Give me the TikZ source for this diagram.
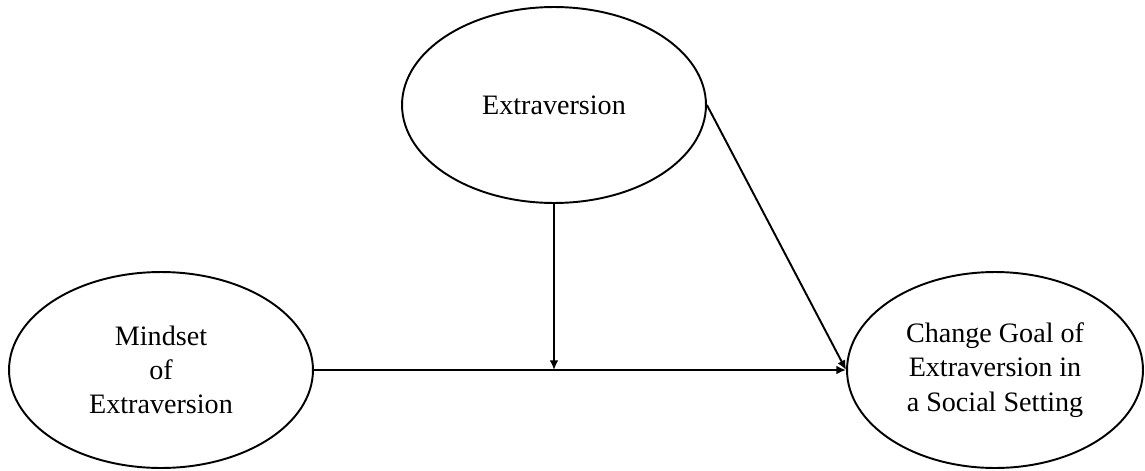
\documentclass[tikz,border=0pt]{standalone}
\usepackage{fontspec}
\setmainfont{Liberation Serif}
\usepackage{tikz}
\usetikzlibrary{shapes.geometric, arrows.meta, positioning}
\tikzset{
	construct/.style={ellipse, draw=black, line width=1.1pt, minimum width=6.08cm, minimum height=3.92cm, inner sep=0pt, align=center, font=\fontsize{16}{19.5}\selectfont},
	path/.style     ={-{Latex[length=5.5pt, width=5pt]}, line width=1.1pt},
}
\begin{document}
\begin{tikzpicture}[x=0.02cm, y=-0.02cm]
	\useasboundingbox (0,0) rectangle (1145,470);
	\node[construct] (extra) at (554,105) {Extraversion};
	\node[construct] (mind) at (161,370) {Mindset\\of\\Extraversion};
	\node[construct, minimum width=5.92cm] (goal) at (995,370) {Change Goal of\\Extraversion in\\a Social Setting};
	\coordinate (meet) at (extra.south |- mind.east);
	\draw[path] (mind.east) -- (goal.west);
	\draw[path] (extra.south) -- (meet);
	\draw[path] (extra.east) -- (goal.west);
\end{tikzpicture}
\end{document}
